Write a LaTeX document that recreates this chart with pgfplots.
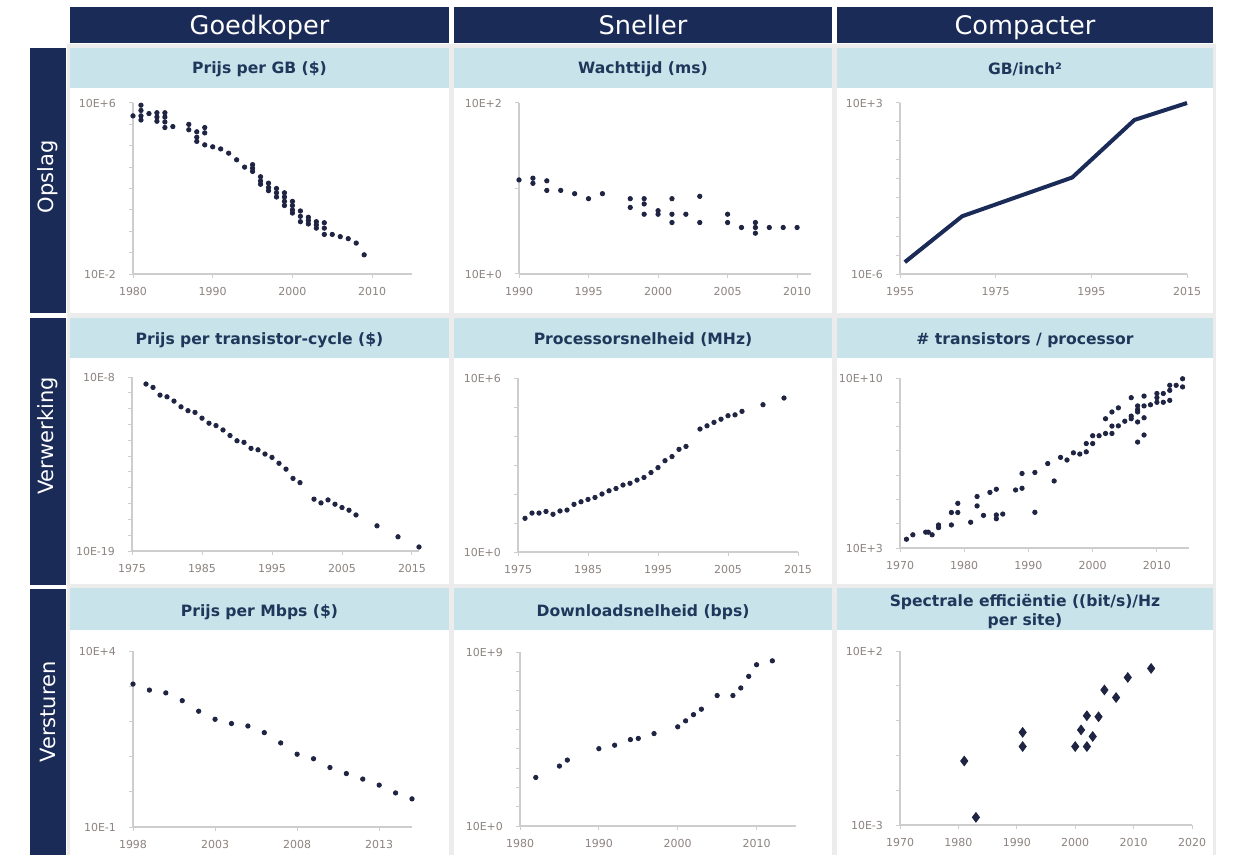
\documentclass[border=0pt]{standalone}
\usepackage{pgfplots}
\pgfplotsset{compat=1.18}
\usepackage{fontspec}
\setmainfont{DejaVu Sans}
\definecolor{navy}{RGB}{27,43,88}
\definecolor{cyanbar}{RGB}{200,228,234}
\definecolor{titlecol}{RGB}{30,55,90}
\definecolor{dotcol}{RGB}{30,36,66}
\definecolor{axisgray}{RGB}{205,205,205}
\definecolor{labgray}{RGB}{140,132,128}
\definecolor{gapgray}{RGB}{236,236,236}
\pgfplotsset{
 mypanel/.style={
  scale only axis, anchor=south west,
  axis x line=bottom, axis y line=left,
  axis line style={draw=axisgray, line width=0.7pt, -},
  tick style={draw=axisgray, line width=0.5pt},
  minor tick style={draw=axisgray, line width=0.5pt},
  tick align=outside,
  major tick length=2pt, minor tick length=2pt,
  xticklabel style={font=\fontsize{5.5}{6}\selectfont, text=labgray, /pgf/number format/1000 sep={}, yshift=-1pt},
  yticklabel style={font=\fontsize{5.5}{6}\selectfont, text=labgray, xshift=-3pt},
  /pgf/number format/assume math mode=true,
  clip=false,
 },
 mydots/.style={only marks, mark=*, mark size=1.1pt, draw=dotcol, fill=dotcol},
}
\begin{document}
\begin{tikzpicture}
\path[use as bounding box] (0,0) rectangle (617pt,-427.5pt);
\begin{scope}[x=0.5pt,y=-0.5pt]
 \fill[gapgray] (67,44) rectangle (1216,855);
 \foreach \xa/\xb in {70/449,454/832,837/1213}{
   \foreach \ya/\yb in {48/313,318/584,588/855}{
     \fill[white] (\xa,\ya) rectangle (\xb,\yb);
   }
   \fill[navy] (\xa,7) rectangle (\xb,43);
   \fill[cyanbar] (\xa,48) rectangle (\xb,88);
   \fill[cyanbar] (\xa,318) rectangle (\xb,358);
   \fill[cyanbar] (\xa,588) rectangle (\xb,630);
 }
 \fill[navy] (30,48) rectangle (66,313);
 \fill[navy] (30,318) rectangle (66,585);
 \fill[navy] (30,589) rectangle (66,855);
 \node[text=white, rotate=90, font=\fontsize{10.5}{12}\selectfont] at (48,177) {Opslag};
 \node[text=white, rotate=90, font=\fontsize{10.5}{12}\selectfont] at (48,436) {Verwerking};
 \node[text=white, rotate=90, font=\fontsize{10.5}{12}\selectfont] at (48,712) {Versturen};
 \node[text=white, anchor=base, font=\fontsize{12.8}{14}\selectfont] at (259.5,35) {Goedkoper};
 \node[text=white, anchor=base, font=\fontsize{12.8}{14}\selectfont] at (643,35) {Sneller};
 \node[text=white, anchor=base, font=\fontsize{12.8}{14}\selectfont] at (1025,35) {Compacter};
 \tikzset{ptitle/.style={text=titlecol, font=\fontsize{7.8}{9.5}\selectfont\bfseries, align=center}}
 \node[ptitle] at (259.5,69) {Prijs per GB (\$)};
 \node[ptitle] at (643,69) {Wachttijd (ms)};
 \node[ptitle] at (1025,69) {GB/inch²};
 \node[ptitle] at (259.5,340) {Prijs per transistor-cycle (\$)};
 \node[ptitle] at (643,340) {Processorsnelheid (MHz)};
 \node[ptitle] at (1025,340) {\# transistors / processor};
 \node[ptitle] at (259.5,612) {Prijs per Mbps (\$)};
 \node[ptitle] at (643,612) {Downloadsnelheid (bps)};
 \node[ptitle] at (1025,612) {Spectrale efficiëntie ((bit/s)/Hz\\per site)};
\end{scope}

% ---------- Row 1 ----------
\begin{semilogyaxis}[mypanel, at={(66.5pt,-137pt)}, width=139.5pt, height=85.5pt,
  xmin=1980, xmax=2015, ymin=1e-2, ymax=1e6,
  xtick={1980,1990,2000,2010},
  ytick={1e-2,1e6}, yticklabels={10E-2,10E+6},
  minor ytick={1e-1,1,1e1,1e2,1e3,1e4,1e5}]
\addplot[mydots] coordinates {
(1980,2.5e5) (1981,7.9e5) (1981,4.5e5) (1981,2.5e5) (1981,1.6e5)
(1982,3.2e5) (1983,3.5e5) (1983,2.2e5) (1983,1.4e5)
(1984,3.5e5) (1984,2.2e5) (1984,1.3e5) (1984,7.1e4) (1985,7.9e4)
(1987,1e5) (1987,5.6e4) (1988,4.5e4) (1988,2.5e4) (1988,1.6e4)
(1989,7.1e4) (1989,4e4) (1989,1.1e4) (1990,8.9e3) (1991,7.1e3)
(1992,4.5e3) (1993,2.2e3) (1994,1e3) (1995,1.3e3) (1995,890) (1995,630)
(1996,355) (1996,224) (1996,158) (1997,178) (1997,112) (1997,79)
(1998,100) (1998,63) (1998,40) (1999,63) (1999,40) (1999,25) (1999,16)
(2000,25) (2000,16) (2000,10) (2000,7.1) (2001,8.9) (2001,5.0) (2001,2.8)
(2002,4.5) (2002,3.2) (2002,2.2) (2003,2.8) (2003,2.0) (2003,1.4)
(2004,2.5) (2004,1.4) (2004,0.71) (2005,0.71) (2006,0.56) (2007,0.45)
(2008,0.28) (2009,0.079)
};
\end{semilogyaxis}

\begin{semilogyaxis}[mypanel, at={(259.5pt,-137pt)}, width=146pt, height=85.5pt,
  xmin=1990, xmax=2011, ymin=1, ymax=100,
  xtick={1990,1995,2000,2005,2010},
  ytick={1,100}, yticklabels={10E+0,10E+2},
  minor ytick={10}]
\addplot[mydots] coordinates {
(1990,12.6) (1991,13.2) (1991,11.5) (1992,12.3) (1992,9.5) (1993,9.5)
(1994,8.7) (1995,7.6) (1996,8.7) (1998,7.6) (1998,6.0)
(1999,7.6) (1999,6.6) (1999,5.0) (2000,5.5) (2000,5.0)
(2001,7.6) (2001,5.0) (2001,4.0) (2002,5.0) (2003,8.1) (2003,4.0)
(2005,5.0) (2005,4.0) (2006,3.5) (2007,4.0) (2007,3.5) (2007,3.0)
(2008,3.5) (2009,3.5) (2010,3.5)
};
\end{semilogyaxis}

\begin{semilogyaxis}[mypanel, at={(450pt,-137pt)}, width=143.5pt, height=85.5pt,
  xmin=1955, xmax=2015, ymin=1e-6, ymax=1e3,
  xtick={1955,1975,1995,2015},
  ytick={1e-6,1e3}, yticklabels={10E-6,10E+3},
  minor ytick={1e-5,1e-4,1e-3,1e-2,1e-1,1,1e1,1e2}]
\addplot[draw=navy, line width=2pt, no marks, line join=round] coordinates {
(1956,4.2e-6) (1968,1.1e-3) (1991,0.12) (2004,128) (2015,1000)
};
\end{semilogyaxis}

% ---------- Row 2 ----------
\begin{semilogyaxis}[mypanel, at={(66pt,-275.5pt)}, width=143.5pt, height=87pt,
  xmin=1975, xmax=2016, ymin=1e-19, ymax=1e-8,
  xtick={1975,1985,1995,2005,2015},
  ytick={1e-19,1e-8}, yticklabels={10E-19,10E-8},
  minor ytick={1e-18,1e-17,1e-16,1e-15,1e-14,1e-13,1e-12,1e-11,1e-10,1e-9}]
\addplot[mydots] coordinates {
(1977,3.6e-9) (1978,2.2e-9) (1979,7.2e-10) (1980,5.6e-10) (1981,3.0e-10)
(1982,1.3e-10) (1983,7.4e-11) (1984,5.8e-11) (1985,2.5e-11) (1986,1.2e-11)
(1987,8.5e-12) (1988,4.5e-12) (1989,2.0e-12) (1990,9.3e-13) (1991,7.4e-13)
(1992,3.1e-13) (1993,2.5e-13) (1994,1.35e-13) (1995,8.3e-14) (1996,3.5e-14)
(1997,1.5e-14) (1998,3.9e-15) (1999,2.1e-15) (2001,1.9e-16) (2002,1.1e-16)
(2003,1.7e-16) (2004,9.1e-17) (2005,5.6e-17) (2006,3.8e-17) (2007,1.9e-17)
(2010,3.9e-18) (2013,7.9e-19) (2016,1.8e-19)
};
\end{semilogyaxis}

\begin{semilogyaxis}[mypanel, at={(259pt,-276pt)}, width=140pt, height=87pt,
  xmin=1975, xmax=2015, ymin=1, ymax=1e6,
  xtick={1975,1985,1995,2005,2015},
  ytick={1,1e6}, yticklabels={10E+0,10E+6},
  minor ytick={1e1,1e2,1e3,1e4,1e5}]
\addplot[mydots] coordinates {
(1976,14.5) (1977,22) (1978,22) (1979,25) (1980,20) (1981,26) (1982,28)
(1983,44) (1984,54) (1985,65) (1986,76) (1987,100) (1988,129) (1989,155)
(1990,204) (1991,234) (1992,302) (1993,372) (1994,550) (1995,813)
(1996,1410) (1997,1950) (1998,3470) (1999,4370) (2001,17400) (2002,22400)
(2003,29500) (2004,38000) (2005,50100) (2006,53700) (2007,70800)
(2010,120000) (2013,204000)
};
\end{semilogyaxis}

\begin{semilogyaxis}[mypanel, at={(450pt,-274pt)}, width=144.5pt, height=85pt,
  xmin=1970, xmax=2015, ymin=1e3, ymax=1e10,
  xtick={1970,1980,1990,2000,2010},
  ytick={1e3,1e10}, yticklabels={10E+3,10E+10},
  minor ytick={1e4,1e5,1e6,1e7,1e8,1e9}]
\addplot[mydots] coordinates {
(1971,2300) (1972,3500) (1974,4500) (1974.4,4500) (1975,3500)
(1976,6900) (1976,8900) (1978,8900) (1978,29000) (1979,29000) (1979,69000)
(1981,11500) (1982,54000) (1982,132000) (1983,22000) (1984,195000)
(1985,263000) (1985,16000) (1985,23000) (1986,25000) (1988,245000)
(1989,288000) (1989,1.17e6) (1991,1.29e6) (1991,29500) (1993,3.0e6)
(1994,5.75e5) (1995,5.4e6) (1996,4.2e6) (1997,8.3e6) (1998,7.4e6)
(1999,9.1e6) (1999,2.0e7) (2000,2.0e7) (2000,4.2e7) (2001,4.2e7)
(2002,5.2e7) (2002,2.1e8) (2003,5.2e7) (2003,1.05e8) (2003,4.0e8)
(2004,1.07e8) (2004,5.9e8) (2005,1.66e8) (2006,2.1e8) (2006,2.7e8) (2006,1.55e9)
(2007,1.55e8) (2007,4.0e8) (2007,5.0e8) (2007,7.1e8) (2007,2.3e7)
(2008,2.3e8) (2008,1.8e9) (2008,4.5e7) (2008,7.1e8) (2009,7.9e8)
(2010,1e9) (2010,1.55e9) (2010,2.3e9) (2011,1e9) (2011,2.3e9)
(2012,1.2e9) (2012,3.1e9) (2012,5.0e9) (2013,5.0e9) (2014,4.3e9) (2014,9.3e9)
};
\end{semilogyaxis}

% ---------- Row 3 ----------
\begin{semilogyaxis}[mypanel, at={(66.5pt,-413.5pt)}, width=139.5pt, height=88pt,
  xmin=1998, xmax=2015, ymin=0.1, ymax=1e4,
  xtick={1998,2003,2008,2013},
  ytick={0.1,1e4}, yticklabels={10E-1,10E+4},
  minor ytick={1,1e1,1e2,1e3}]
\addplot[mydots] coordinates {
(1998,1150) (1999,776) (2000,646) (2001,389) (2002,195) (2003,115)
(2004,87) (2005,74) (2006,48) (2007,24.5) (2008,11.7) (2009,8.7)
(2010,4.9) (2011,3.3) (2012,2.3) (2013,1.55) (2014,0.93) (2015,0.63)
};
\end{semilogyaxis}

\begin{semilogyaxis}[mypanel, at={(260pt,-413pt)}, width=138pt, height=87pt,
  xmin=1980, xmax=2015, ymin=1, ymax=1e9,
  xtick={1980,1990,2000,2010},
  ytick={1,1e9}, yticklabels={10E+0,10E+9},
  minor ytick={1e1,1e2,1e3,1e4,1e5,1e6,1e7,1e8}]
\addplot[mydots] coordinates {
(1982,324) (1985,1260) (1986,2570) (1990,10000) (1992,15100) (1994,29500)
(1995,33900) (1997,60300) (2000,135000) (2001,275000) (2002,575000)
(2003,1.1e6) (2005,5.6e6) (2007,5.6e6) (2008,1.38e7) (2009,5.5e7)
(2010,2.2e8) (2012,3.5e8)
};
\end{semilogyaxis}

\begin{semilogyaxis}[mypanel, at={(450pt,-412.5pt)}, width=146pt, height=87pt,
  xmin=1970, xmax=2020, ymin=1e-3, ymax=1e2,
  xtick={1970,1980,1990,2000,2010,2020},
  ytick={1e-3,1e2}, yticklabels={10E-3,10E+2},
  minor ytick={1e-2,1e-1,1,1e1}]
\addplot[mydots, mark=diamond*, mark size=2.4pt] coordinates {
(1981,0.069) (1983,0.00166) (1991,0.46) (1991,0.18) (2000,0.18)
(2001,0.54) (2002,0.18) (2002,1.38) (2003,0.35) (2004,1.29)
(2005,7.6) (2007,4.6) (2009,17.4) (2013,31.6)
};
\end{semilogyaxis}
\end{tikzpicture}
\end{document}
